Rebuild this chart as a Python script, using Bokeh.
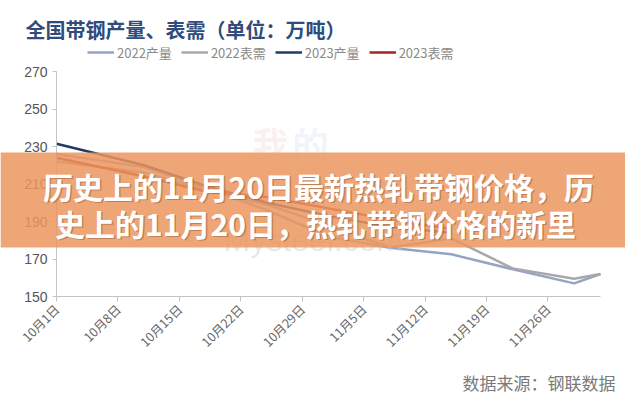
import math
from bokeh.plotting import figure
from bokeh.models import FixedTicker, Legend, LegendItem, BoxAnnotation, Label, Range1d
from bokeh.embed import file_html
from bokeh.resources import INLINE

# ---- data ----
tick_days = [0, 7, 14, 21, 28, 35, 42, 49, 56]
tick_labels = ["10月1日", "10月8日", "10月15日", "10月22日", "10月29日",
               "11月5日", "11月12日", "11月19日", "11月26日"]
y_ticks = [150, 170, 190, 210, 230, 250, 270]

days_2022 = [0, 10, 17, 24, 31, 38, 45, 52, 59, 62]
prod_2022 = [226, 219, 208, 196, 182, 176, 172.5, 164.5, 157, 162]
dem_2022 = [222, 216, 207, 199, 188, 176, 181, 165, 159.5, 162]
days_2023 = [0, 10, 17, 24, 31, 38, 45]
prod_2023 = [231.5, 220, 209, 200, 193, 187, 184]
dem_2023 = [224, 214, 206, 203, 197, 191, 186]

series_names = ["2022产量", "2022表需", "2023产量", "2023表需"]
series_colors = ["#93A5C3", "#A8A8A8", "#1F3B6B", "#A52424"]

title_text = "全国带钢产量、表需（单位：万吨）"
banner_line1 = "历史上的11月20日最新热轧带钢价格，历"
banner_line2 = "史上的11月20日，热轧带钢价格的新里"
source_text = "数据来源：钢联数据"

CJK = "Noto Sans CJK SC"

# ---- layout: the frame fills the whole canvas, axes sit at fixed locations ----
W, H = 625, 400
AX_LEFT, AX_RIGHT = 56, 600      # pixel span of x axis
AX_TOP, AX_BOTTOM = 71, 296      # pixel span of y axis
x0, x1 = 0, 62
y0, y1 = 150, 270
kx = (AX_RIGHT - AX_LEFT) / (x1 - x0)
ky = (AX_BOTTOM - AX_TOP) / (y1 - y0)
xr = Range1d(x0 - AX_LEFT / kx, x1 + (W - AX_RIGHT) / kx)
yr = Range1d(y0 - (H - AX_BOTTOM) / ky, y1 + AX_TOP / ky)


def dx(px):
    return xr.start + px / kx


def dy(py):
    return yr.end - py / ky


p = figure(frame_width=W, frame_height=H, min_border=0,
           x_range=xr, y_range=yr,
           output_backend="svg", toolbar_location=None)
p.outline_line_color = None
p.grid.visible = False
p.background_fill_color = "white"
p.border_fill_color = "white"

xa = p.xaxis[0]
ya = p.yaxis[0]
xa.fixed_location = y0
ya.fixed_location = x0
xa.bounds = (x0, x1)
ya.bounds = (y0, y1)
xa.ticker = FixedTicker(ticks=tick_days)
xa.major_label_overrides = {d: l for d, l in zip(tick_days, tick_labels)}
xa.major_label_orientation = math.pi / 4
xa.major_label_text_font = CJK
xa.major_label_text_font_size = "12.5px"
xa.major_label_text_color = "#666666"
xa.minor_tick_line_color = None
xa.major_tick_in = 0
xa.major_tick_out = 5
ya.ticker = FixedTicker(ticks=y_ticks)
ya.major_label_text_font = "Liberation Sans"
ya.major_label_text_font_size = "14px"
ya.major_label_text_color = "#555555"
ya.minor_tick_line_color = None
ya.major_tick_in = 0
ya.major_tick_out = 4
for ax in (xa, ya):
    ax.axis_line_color = "#C4C4C4"
    ax.major_tick_line_color = "#C4C4C4"

# watermark
for t, c, px, py in [("我", "#E58A8A", 252, 168), ("的", "#8FB3D9", 292, 168),
                     ("钢", "#E58A8A", 252, 206), ("铁", "#8FB3D9", 292, 206)]:
    p.add_layout(Label(x=dx(px), y=dy(py), text=t, text_font=CJK, text_font_size="36px",
                       text_font_style="bold", text_color=c, text_alpha=0.14))
p.add_layout(Label(x=dx(223), y=dy(257), text="Mysteel.com", text_font="Liberation Sans",
                   text_font_size="32px", text_color="#CFCFCF", text_alpha=0.5))

# lines
xs = [days_2022, days_2022, days_2023, days_2023]
ys = [prod_2022, dem_2022, prod_2023, dem_2023]
items = []
for name, c, x, y in zip(series_names, series_colors, xs, ys):
    r = p.line(x, y, line_color=c, line_width=2.5)
    items.append(LegendItem(label=name, renderers=[r]))

legend = Legend(items=items, orientation="horizontal", location=(87, H - 62),
                margin=0, padding=0, spacing=9, glyph_width=27, label_standoff=3,
                label_text_font=CJK, label_text_font_size="13px",
                label_text_color="#8A8A8A", border_line_color=None,
                background_fill_alpha=0)
p.add_layout(legend)

# title
p.add_layout(Label(x=dx(25), y=dy(29), text=title_text, text_font=CJK,
                   text_font_size="20px", text_font_style="bold",
                   text_color="#2E4C7C", text_baseline="middle"))

# source
p.add_layout(Label(x=dx(615), y=dy(382), text=source_text, text_font=CJK,
                   text_font_size="17px", text_color="#7A7A7A",
                   text_align="right", text_baseline="middle"))

# banner
p.add_layout(BoxAnnotation(left=xr.start, right=xr.end, bottom=dy(247), top=dy(152),
                           fill_color="#EC965F", fill_alpha=0.85, line_color=None))
for txt, px, py in [(banner_line1, 318, 185), (banner_line2, 315, 222)]:
    p.add_layout(Label(x=dx(px), y=dy(py), text=txt, text_font=CJK, text_font_size="30px",
                       text_font_style="bold", text_color="#6B3A1A", text_alpha=0.35,
                       text_align="center", text_baseline="middle",
                       x_offset=1.5, y_offset=-1.5))
    p.add_layout(Label(x=dx(px), y=dy(py), text=txt, text_font=CJK, text_font_size="30px",
                       text_font_style="bold", text_color="white",
                       text_align="center", text_baseline="middle"))

open("out.html", "w").write(file_html(p, INLINE))
